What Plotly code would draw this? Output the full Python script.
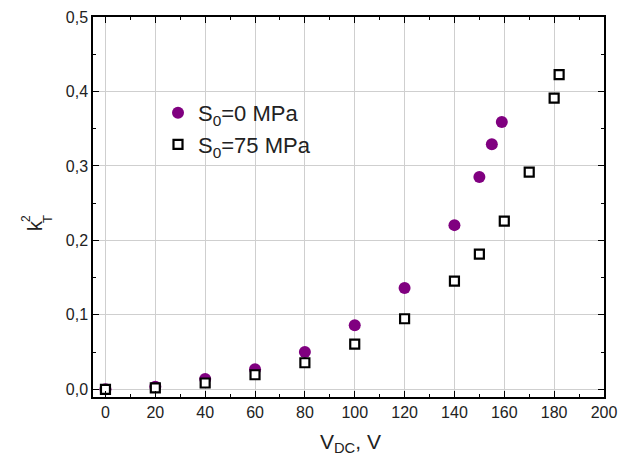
import plotly.graph_objects as go

# Data
v_s0 = [0, 20, 40, 60, 80, 100, 120, 140, 150, 155, 159]
k_s0 = [0.0, 0.0035, 0.0138, 0.027, 0.050, 0.086, 0.136, 0.2205, 0.285, 0.329, 0.359]

v_s75 = [0, 20, 40, 60, 80, 100, 120, 140, 150, 160, 170, 180, 182]
k_s75 = [0.0, 0.002, 0.0085, 0.0196, 0.0357, 0.0608, 0.0948, 0.1453, 0.1816, 0.226, 0.2916, 0.391, 0.4227]

name_s0 = "S<sub>0</sub>=0 MPa"
name_s75 = "S<sub>0</sub>=75 MPa"

W, H = 621, 465
ML, MR, MT, MB = 93, 17, 17, 68
PW, PH = W - ML - MR, H - MT - MB

def px_x(px):
    return (px - ML) / PW

def px_y(py):
    return (H - MB - py) / PH

font_family = "Liberation Sans, Arial, sans-serif"

fig = go.Figure()
fig.add_trace(go.Scatter(
    x=v_s0, y=k_s0, mode="markers", name=name_s0,
    marker=dict(symbol="circle", size=12, color="#800080", line=dict(width=0)),
))
fig.add_trace(go.Scatter(
    x=v_s75, y=k_s75, mode="markers", name=name_s75,
    marker=dict(symbol="square", size=9, color="white", line=dict(width=2.2, color="black")),
))

axis_common = dict(
    automargin=False,
    showline=True, linecolor="black", linewidth=1.5, mirror="ticks",
    ticks="inside", ticklen=6, tickwidth=1.2, tickcolor="black",
    showgrid=True, gridcolor="#cfcfcf", gridwidth=1,
    zeroline=False,
    tickfont=dict(family=font_family, size=16, color="#222"),
)

fig.update_xaxes(
    range=[-5, 200], tick0=0, dtick=20,
    minor=dict(ticks="inside", ticklen=3, tickwidth=1.2, tickcolor="black", dtick=10, tick0=0, showgrid=False),
    **axis_common,
)
fig.update_yaxes(
    range=[-0.0103, 0.5], tick0=0, dtick=0.1, tickformat=".1f",
    minor=dict(ticks="inside", ticklen=3, tickwidth=1.2, tickcolor="black", dtick=0.05, tick0=0, showgrid=False),
    **axis_common,
)

annotations = [
    dict(text="V<sub>DC</sub>, V", x=px_x(350), y=px_y(443), xref="paper", yref="paper",
         showarrow=False, font=dict(family=font_family, size=21, color="#222"), xanchor="center", yanchor="middle"),
    dict(text="k", x=px_x(35), y=px_y(226), xref="paper", yref="paper", textangle=-90,
         showarrow=False, font=dict(family=font_family, size=20, color="#222"), xanchor="center", yanchor="middle"),
    dict(text="2", x=px_x(26), y=px_y(219), xref="paper", yref="paper", textangle=-90,
         showarrow=False, font=dict(family=font_family, size=12, color="#222"), xanchor="center", yanchor="middle"),
    dict(text="T", x=px_x(47), y=px_y(219), xref="paper", yref="paper", textangle=-90,
         showarrow=False, font=dict(family=font_family, size=13, color="#222"), xanchor="center", yanchor="middle"),
]

fig.update_layout(
    width=W, height=H,
    margin=dict(l=ML, r=MR, t=MT, b=MB, autoexpand=False),
    paper_bgcolor="white", plot_bgcolor="white",
    separators=",.",
    showlegend=True,
    legend=dict(x=px_x(158), y=px_y(92), xanchor="left", yanchor="top",
                bgcolor="rgba(0,0,0,0)", font=dict(family=font_family, size=22, color="#222"),
                itemsizing="trace", tracegroupgap=0),
    annotations=annotations,
)

fig.write_html("out.html", config={"displayModeBar": False},
               post_script="document.body.style.margin='0';document.body.style.overflow='hidden';")
